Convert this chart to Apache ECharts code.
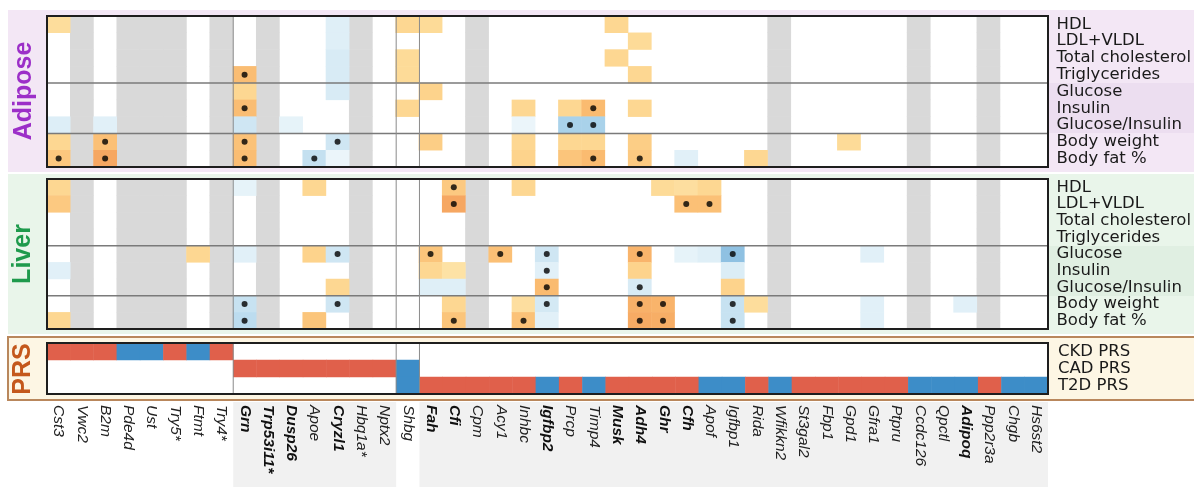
<!DOCTYPE html>
<html>
<head>
<meta charset="utf-8">
<script src="https://cdn.jsdelivr.net/npm/echarts@6/dist/echarts.min.js"></script>
<style>
  html, body { margin: 0; padding: 0; background: #fff; }
  #chart { width: 1194px; height: 487px; }
</style>
</head>
<body>
<div id="chart"></div>
<script>
const genes = ["Cst3", "Vwc2", "B2m", "Pde4d", "Ust", "Try5*", "Ftmt", "Try4*", "Grn", "Trp53i11*",
  "Dusp26", "Apoe", "Cryzl1", "Hbq1a*", "Nptx2", "Shbg", "Fah", "Cfi", "Cpm", "Acy1", "Inhbc",
  "Igfbp2", "Prcp", "Timp4", "Musk", "Adh4", "Ghr", "Cfh", "Apof", "Igfbp1", "Rida", "Wfikkn2",
  "St3gal2", "Fbp1", "Gpd1", "Gfra1", "Ptpru", "Ccdc126", "Qpctl", "Adipoq", "Ppp2r3a", "Chgb", "Hs6st2"];
const boldGenes = ["Grn", "Trp53i11*", "Dusp26", "Cryzl1", "Fah", "Cfi", "Igfbp2", "Musk", "Adh4", "Ghr", "Cfh", "Adipoq"];
const missingGenes = ["Vwc2", "Pde4d", "Ust", "Try5*", "Try4*", "Trp53i11*", "Hbq1a*", "Cpm", "Wfikkn2", "Ccdc126", "Ppp2r3a"];
const traits = ["HDL", "LDL+VLDL", "Total cholesterol", "Triglycerides", "Glucose", "Insulin",
  "Glucose/Insulin", "Body weight", "Body fat %"];
const prsTraits = ["CKD PRS", "CAD PRS", "T2D PRS"];

// [gene, trait, effect]  (+ = orange, - = blue)
const adiposeCells = [
  ["Cst3", "HDL", 1.5], ["Cst3", "Glucose/Insulin", -1.4], ["Cst3", "Body weight", 1.8], ["Cst3", "Body fat %", 2.5],
  ["B2m", "Glucose/Insulin", -1.2], ["B2m", "Body weight", 2.8], ["B2m", "Body fat %", 3.6],
  ["Grn", "Triglycerides", 2.9], ["Grn", "Glucose", 1.8], ["Grn", "Insulin", 2.9], ["Grn", "Glucose/Insulin", -2],
  ["Grn", "Body weight", 2.7], ["Grn", "Body fat %", 2.9],
  ["Dusp26", "Glucose/Insulin", -1],
  ["Apoe", "Body fat %", -2.3],
  ["Cryzl1", "HDL", -1.3], ["Cryzl1", "LDL+VLDL", -1.3], ["Cryzl1", "Total cholesterol", -1.6],
  ["Cryzl1", "Triglycerides", -1.6], ["Cryzl1", "Glucose", -1.6], ["Cryzl1", "Body weight", -2], ["Cryzl1", "Body fat %", -0.8],
  ["Shbg", "HDL", 1.8], ["Shbg", "Total cholesterol", 1.6], ["Shbg", "Triglycerides", 1.6], ["Shbg", "Insulin", 1.8],
  ["Fah", "HDL", 1.6], ["Fah", "Glucose", 2], ["Fah", "Body weight", 2.2],
  ["Inhbc", "Insulin", 1.8], ["Inhbc", "Glucose/Insulin", -0.8], ["Inhbc", "Body weight", 1.8], ["Inhbc", "Body fat %", 2],
  ["Prcp", "Insulin", 1.8], ["Prcp", "Glucose/Insulin", -3], ["Prcp", "Body weight", 1.8], ["Prcp", "Body fat %", 2.6],
  ["Timp4", "Insulin", 3], ["Timp4", "Glucose/Insulin", -3], ["Timp4", "Body weight", 1.8], ["Timp4", "Body fat %", 3],
  ["Musk", "HDL", 1.8], ["Musk", "Total cholesterol", 1.8],
  ["Adh4", "LDL+VLDL", 1.6], ["Adh4", "Triglycerides", 1.8], ["Adh4", "Insulin", 1.8], ["Adh4", "Body weight", 2.2], ["Adh4", "Body fat %", 2.4],
  ["Cfh", "Body fat %", -1.2],
  ["Rida", "Body fat %", 1.8],
  ["Gpd1", "Body weight", 1.6]
];
const adiposeSig = [
  ["Cst3", "Body fat %"], ["B2m", "Body weight"], ["B2m", "Body fat %"],
  ["Grn", "Triglycerides"], ["Grn", "Insulin"], ["Grn", "Body weight"], ["Grn", "Body fat %"],
  ["Apoe", "Body fat %"], ["Cryzl1", "Body weight"],
  ["Prcp", "Glucose/Insulin"], ["Timp4", "Insulin"], ["Timp4", "Glucose/Insulin"], ["Timp4", "Body fat %"],
  ["Adh4", "Body fat %"]
];

const liverCells = [
  ["Cst3", "HDL", 1.8], ["Cst3", "LDL+VLDL", 2.4], ["Cst3", "Insulin", -1.2], ["Cst3", "Body fat %", 1.8],
  ["Ftmt", "Glucose", 1.8],
  ["Grn", "HDL", -1], ["Grn", "Glucose", -1.2], ["Grn", "Body weight", -2.2], ["Grn", "Body fat %", -2.5],
  ["Apoe", "HDL", 1.8], ["Apoe", "Glucose", 2], ["Apoe", "Body fat %", 2.6],
  ["Cryzl1", "Glucose", -2], ["Cryzl1", "Glucose/Insulin", 1.8], ["Cryzl1", "Body weight", -2],
  ["Fah", "Glucose", 2.6], ["Fah", "Insulin", 1.8], ["Fah", "Glucose/Insulin", -1.3],
  ["Cfi", "HDL", 2.4], ["Cfi", "LDL+VLDL", 3.6], ["Cfi", "Insulin", 1.2], ["Cfi", "Glucose/Insulin", -1.3],
  ["Cfi", "Body weight", 1.8], ["Cfi", "Body fat %", 2.6],
  ["Acy1", "Glucose", 2.8],
  ["Inhbc", "HDL", 1.8], ["Inhbc", "Body weight", 1.4], ["Inhbc", "Body fat %", 2.7],
  ["Igfbp2", "Glucose", -2], ["Igfbp2", "Insulin", -1.2], ["Igfbp2", "Glucose/Insulin", 3],
  ["Igfbp2", "Body weight", -1.8], ["Igfbp2", "Body fat %", -1.2],
  ["Adh4", "Glucose", 3.2], ["Adh4", "Insulin", 2], ["Adh4", "Glucose/Insulin", -1.6],
  ["Adh4", "Body weight", 3.3], ["Adh4", "Body fat %", 3.5],
  ["Ghr", "HDL", 1.6], ["Ghr", "Body weight", 3.2], ["Ghr", "Body fat %", 3.4],
  ["Cfh", "HDL", 1.4], ["Cfh", "LDL+VLDL", 2.8], ["Cfh", "Glucose", -1],
  ["Apof", "HDL", 1.8], ["Apof", "LDL+VLDL", 2.8], ["Apof", "Glucose", -1.3],
  ["Igfbp1", "Glucose", -3.6], ["Igfbp1", "Insulin", -1.5], ["Igfbp1", "Glucose/Insulin", 2],
  ["Igfbp1", "Body weight", -2.2], ["Igfbp1", "Body fat %", -2.2],
  ["Rida", "Body weight", 1.5],
  ["Gfra1", "Glucose", -1.2], ["Gfra1", "Body weight", -1.2], ["Gfra1", "Body fat %", -1.2],
  ["Adipoq", "Body weight", -1.2]
];
const liverSig = [
  ["Grn", "Body weight"], ["Grn", "Body fat %"],
  ["Cryzl1", "Glucose"], ["Cryzl1", "Body weight"],
  ["Fah", "Glucose"], ["Cfi", "HDL"], ["Cfi", "LDL+VLDL"], ["Cfi", "Body fat %"],
  ["Acy1", "Glucose"], ["Inhbc", "Body fat %"],
  ["Igfbp2", "Glucose"], ["Igfbp2", "Insulin"], ["Igfbp2", "Glucose/Insulin"], ["Igfbp2", "Body weight"],
  ["Adh4", "Glucose"], ["Adh4", "Glucose/Insulin"], ["Adh4", "Body weight"], ["Adh4", "Body fat %"],
  ["Ghr", "Body weight"], ["Ghr", "Body fat %"],
  ["Cfh", "LDL+VLDL"], ["Apof", "LDL+VLDL"],
  ["Igfbp1", "Glucose"], ["Igfbp1", "Body weight"], ["Igfbp1", "Body fat %"]
];

// [gene, PRS, direction]  1 = red, -1 = blue
const prsCells = [
  ["Cst3", "CKD PRS", 1], ["Vwc2", "CKD PRS", 1], ["B2m", "CKD PRS", 1], ["Pde4d", "CKD PRS", -1],
  ["Ust", "CKD PRS", -1], ["Try5*", "CKD PRS", 1], ["Ftmt", "CKD PRS", -1], ["Try4*", "CKD PRS", 1],
  ["Grn", "CAD PRS", 1], ["Trp53i11*", "CAD PRS", 1], ["Dusp26", "CAD PRS", 1], ["Apoe", "CAD PRS", 1],
  ["Cryzl1", "CAD PRS", 1], ["Hbq1a*", "CAD PRS", 1], ["Nptx2", "CAD PRS", 1], ["Shbg", "CAD PRS", -1],
  ["Shbg", "T2D PRS", -1], ["Fah", "T2D PRS", 1], ["Cfi", "T2D PRS", 1], ["Cpm", "T2D PRS", 1],
  ["Acy1", "T2D PRS", 1], ["Inhbc", "T2D PRS", 1], ["Igfbp2", "T2D PRS", -1], ["Prcp", "T2D PRS", 1],
  ["Timp4", "T2D PRS", -1], ["Musk", "T2D PRS", 1], ["Adh4", "T2D PRS", 1], ["Ghr", "T2D PRS", 1],
  ["Cfh", "T2D PRS", 1], ["Apof", "T2D PRS", -1], ["Igfbp1", "T2D PRS", -1], ["Rida", "T2D PRS", 1],
  ["Wfikkn2", "T2D PRS", -1], ["St3gal2", "T2D PRS", 1], ["Fbp1", "T2D PRS", 1], ["Gpd1", "T2D PRS", 1],
  ["Gfra1", "T2D PRS", 1], ["Ptpru", "T2D PRS", 1], ["Ccdc126", "T2D PRS", -1], ["Qpctl", "T2D PRS", -1],
  ["Adipoq", "T2D PRS", -1], ["Ppp2r3a", "T2D PRS", 1], ["Chgb", "T2D PRS", -1], ["Hs6st2", "T2D PRS", -1]
];

// layout
const LEFT = 47, WIDTH = 1001;
const panels = [
  { top: 16, height: 151, rows: 9 },
  { top: 179, height: 150, rows: 9 },
  { top: 343, height: 51, rows: 3 }
];
const colW = WIDTH / genes.length;

const missingCells = [];
missingGenes.forEach(g => traits.forEach(t => missingCells.push([g, t, 0])));

function xAxisFor(i) {
  return {
    type: "category", gridIndex: i, data: genes,
    axisLine: { show: false }, axisTick: { show: false }, splitLine: { show: false },
    axisLabel: i < 2 ? { show: false } : {
      show: true, interval: 0, rotate: -90, margin: 11,
      formatter: v => boldGenes.includes(v) ? "{b|" + v + "}" : "{n|" + v + "}",
      rich: {
        n: { fontFamily: "Liberation Sans", fontStyle: "italic", fontSize: 15.5, color: "#222" },
        b: { fontFamily: "Liberation Sans", fontStyle: "italic", fontWeight: "bold", fontSize: 15.5, color: "#111" }
      }
    }
  };
}
function yAxisFor(i, data) {
  return {
    type: "category", gridIndex: i, data: data, inverse: true, position: "right",
    axisLine: { show: false }, axisTick: { show: false }, splitLine: { show: false },
    axisLabel: { interval: 0, margin: 10, fontFamily: "DejaVu Sans", fontSize: 16.5, lineHeight: 16, color: "#1a1a1a" }
  };
}

const gray = { color: "#d9d9d9" };
const dotStyle = { color: "#000" };

const series = [
  { type: "heatmap", xAxisIndex: 0, yAxisIndex: 0, data: missingCells, itemStyle: gray, silent: true },
  { type: "heatmap", xAxisIndex: 0, yAxisIndex: 0, data: adiposeCells, silent: true },
  { type: "scatter", xAxisIndex: 0, yAxisIndex: 0, data: adiposeSig, symbolSize: 6, itemStyle: dotStyle, z: 5, silent: true },
  { type: "heatmap", xAxisIndex: 1, yAxisIndex: 1, data: missingCells, itemStyle: gray, silent: true },
  { type: "heatmap", xAxisIndex: 1, yAxisIndex: 1, data: liverCells, silent: true },
  { type: "scatter", xAxisIndex: 1, yAxisIndex: 1, data: liverSig, symbolSize: 6, itemStyle: dotStyle, z: 5, silent: true },
  { type: "heatmap", xAxisIndex: 2, yAxisIndex: 2, data: prsCells, silent: true }
];

// backgrounds, borders, separators, section titles
const graphics = [
  { type: "rect", shape: { x: 8, y: 10, width: 1186, height: 162 }, style: { fill: "#f3e7f5" }, z: -10 },
  { type: "rect", shape: { x: 1048, y: 83, width: 146, height: 50 }, style: { fill: "#ecdef0" }, z: -9 },
  { type: "rect", shape: { x: 8, y: 174, width: 1186, height: 160 }, style: { fill: "#e9f5ea" }, z: -10 },
  { type: "rect", shape: { x: 1048, y: 246, width: 146, height: 50 }, style: { fill: "#e0efe2" }, z: -9 },
  { type: "rect", shape: { x: 8, y: 337, width: 1190, height: 63 }, style: { fill: "#fdf6e4", stroke: "#b9875c", lineWidth: 2 }, z: -10 },
  { type: "rect", shape: { x: LEFT + 8 * colW, y: 402, width: 7 * colW, height: 90 }, style: { fill: "#f1f1f1" }, z: -10 },
  { type: "rect", shape: { x: LEFT + 16 * colW, y: 402, width: 27 * colW, height: 90 }, style: { fill: "#f1f1f1" }, z: -10 },
  { type: "text", x: 24, y: 91, rotation: Math.PI / 2,
    style: { text: "Adipose", fill: "#9c2fc8", font: "bold 25px 'Liberation Sans'", align: "center", verticalAlign: "middle", textAlign: "center", textVerticalAlign: "middle" } },
  { type: "text", x: 23, y: 254, rotation: Math.PI / 2,
    style: { text: "Liver", fill: "#1e9a4c", font: "bold 25px 'Liberation Sans'", align: "center", verticalAlign: "middle", textAlign: "center", textVerticalAlign: "middle" } },
  { type: "text", x: 23, y: 369, rotation: Math.PI / 2,
    style: { text: "PRS", fill: "#c4581c", font: "bold 25px 'Liberation Sans'", align: "center", verticalAlign: "middle", textAlign: "center", textVerticalAlign: "middle" } }
];
panels.forEach(p => {
  graphics.push({ type: "rect", shape: { x: LEFT, y: p.top, width: WIDTH, height: p.height }, style: { fill: "#fff" }, z: -8 });
  const rowH = p.height / p.rows;
  if (p.rows === 9) {
    [4, 7].forEach(r => graphics.push({ type: "line", shape: { x1: LEFT, y1: p.top + r * rowH, x2: LEFT + WIDTH, y2: p.top + r * rowH },
      style: { stroke: "#7a7a7a", lineWidth: 1.5 }, z: 50 }));
  }
  [8, 15, 16].forEach(c => graphics.push({ type: "line", shape: { x1: LEFT + c * colW, y1: p.top, x2: LEFT + c * colW, y2: p.top + p.height },
    style: { stroke: "#8a8a8a", lineWidth: 1 }, z: 50 }));
  graphics.push({ type: "rect", shape: { x: LEFT, y: p.top, width: WIDTH, height: p.height },
    style: { fill: null, stroke: "#1e1e1e", lineWidth: 2 }, z: 60 });
});

const option = {
  animation: false,
  grid: panels.map(p => ({ left: LEFT, top: p.top, width: WIDTH, height: p.height, containLabel: false })),
  xAxis: [xAxisFor(0), xAxisFor(1), xAxisFor(2)],
  yAxis: [yAxisFor(0, traits), yAxisFor(1, traits), yAxisFor(2, prsTraits)],
  visualMap: [
    {
      type: "continuous", show: false, seriesIndex: [1, 4], min: -4, max: 4, dimension: 2,
      inRange: { color: ["#7db6dc", "#a9d2ea", "#cfe6f3", "#e6f3f9", "#ffffff", "#fde6ab", "#fdd38c", "#fabb70", "#f39a58"] }
    },
    {
      type: "piecewise", show: false, seriesIndex: 6, dimension: 2,
      pieces: [{ value: 1, color: "#e0604b" }, { value: -1, color: "#3d8dc8" }]
    }
  ],
  series: series,
  graphic: { elements: graphics }
};

const chart = echarts.init(document.getElementById("chart"));
chart.setOption(option);
</script>
</body>
</html>
